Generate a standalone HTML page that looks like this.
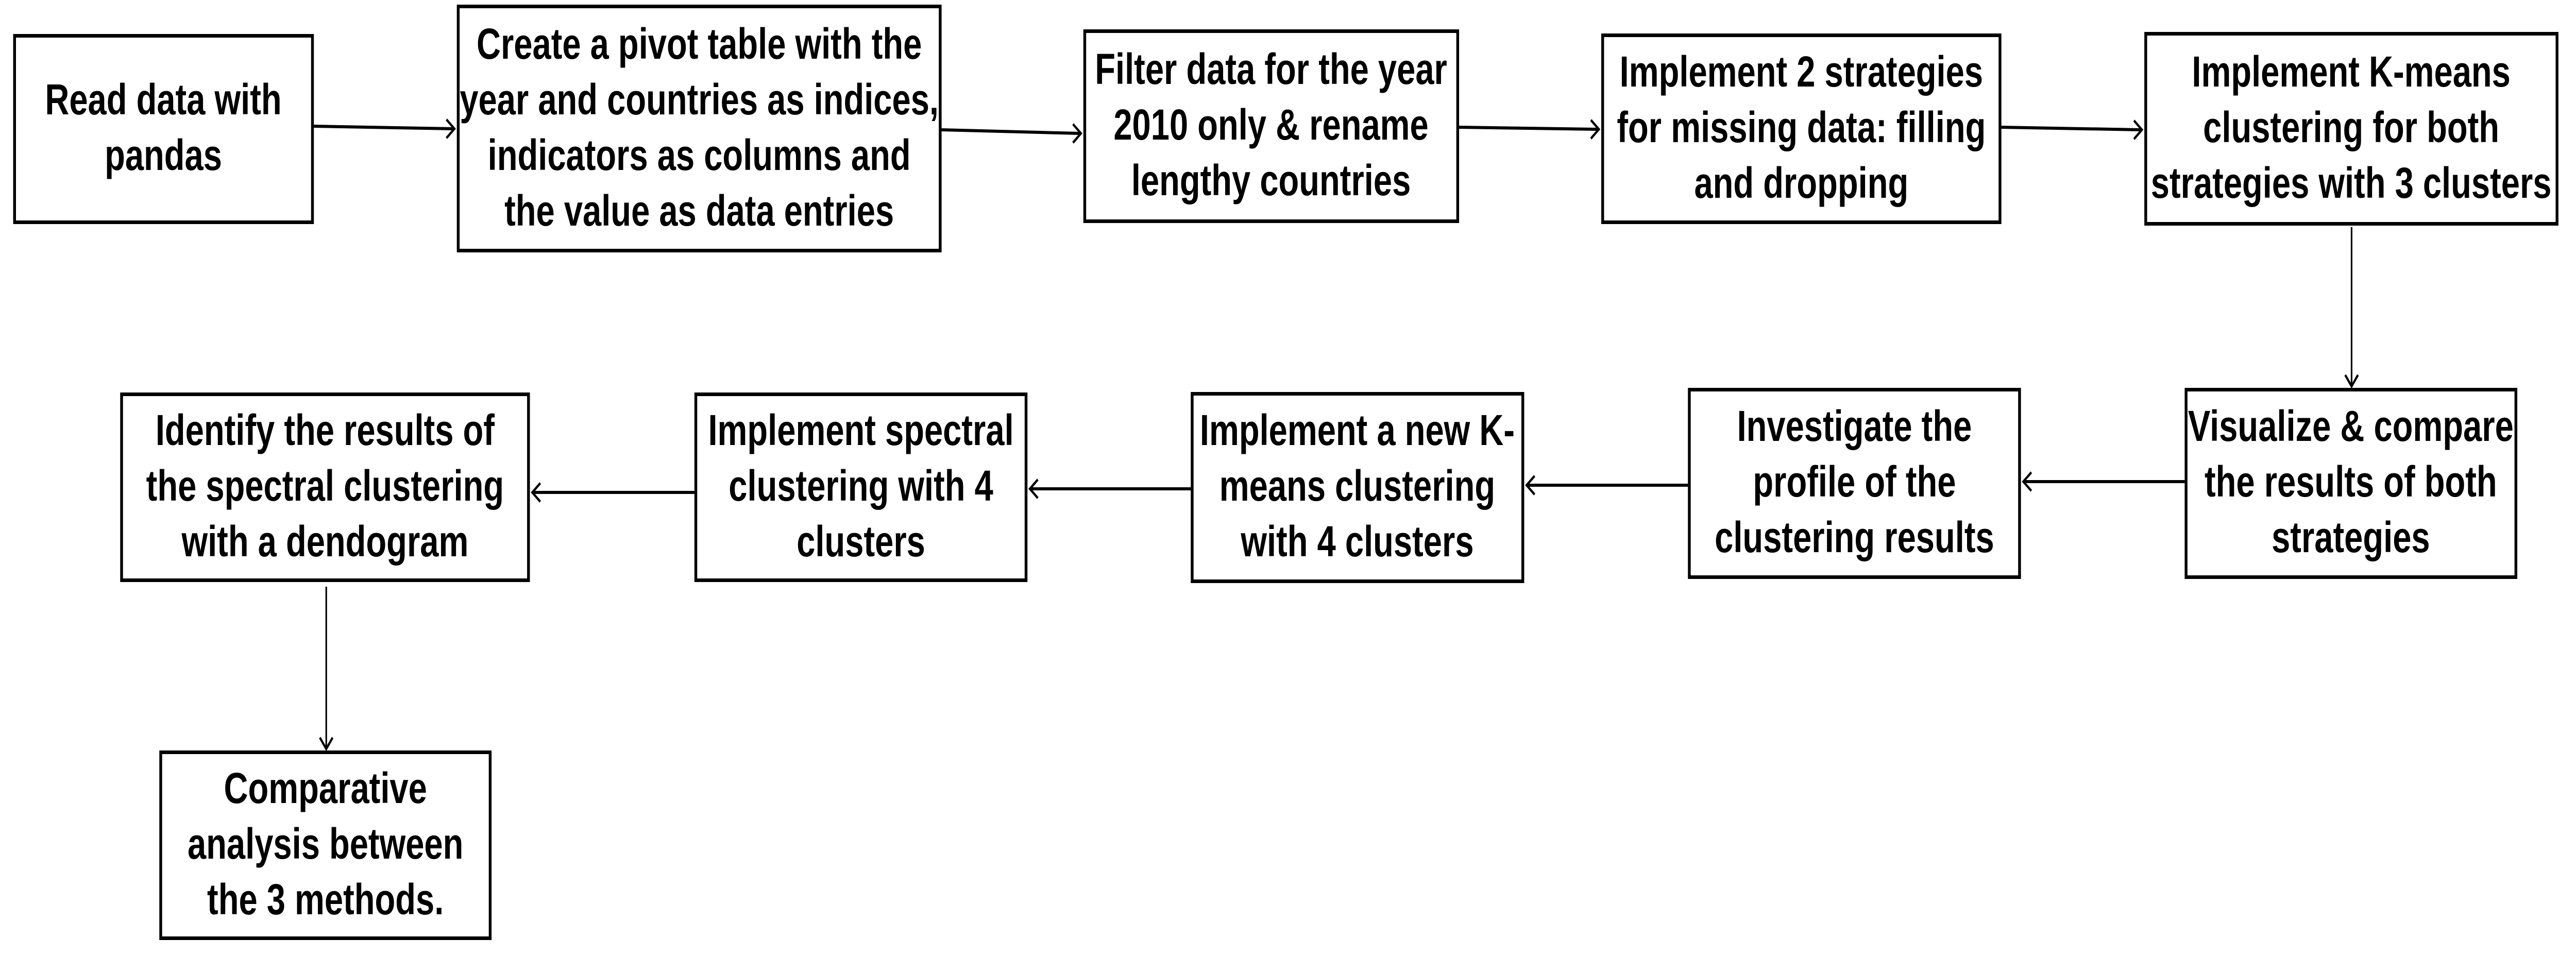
<!DOCTYPE html>
<html><head><meta charset="utf-8"><style>
html,body{margin:0;padding:0;background:#fff;overflow:hidden;width:100%;height:100%}
svg{display:block;width:100vw;height:100vh}
text{font-family:"Liberation Sans",sans-serif;font-weight:bold;font-size:84px;text-anchor:middle;fill:#000}
</style></head><body>
<svg viewBox="0 0 6451 1856" preserveAspectRatio="none" xmlns="http://www.w3.org/2000/svg">
<rect width="6451" height="1856" fill="#fff"/>
<g fill="#fff" stroke="#000" stroke-width="7">
<rect x="36.5" y="69.5" width="746" height="362"/>
<rect x="1147.5" y="12.5" width="1207" height="474"/>
<rect x="2716.5" y="60.5" width="934" height="369"/>
<rect x="4013.5" y="68.5" width="995" height="363"/>
<rect x="5373.5" y="65.5" width="1030" height="369"/>
<rect x="5474.5" y="756.5" width="826" height="364"/>
<rect x="4230.5" y="756.5" width="827" height="364"/>
<rect x="2985.5" y="764.5" width="828" height="364"/>
<rect x="1742.5" y="765.5" width="827" height="361"/>
<rect x="304.5" y="765.5" width="1019" height="361"/>
<rect x="402.5" y="1460.5" width="825" height="361"/>
</g>
<text x="409" y="222">Read data with</text><text x="409" y="330">pandas</text>
<text x="1751" y="114">Create a pivot table with the</text><text x="1751" y="222">year and countries as indices,</text><text x="1751" y="330">indicators as columns and</text><text x="1751" y="438">the value as data entries</text>
<text x="3183" y="163">Filter data for the year</text><text x="3183" y="271">2010 only &amp; rename</text><text x="3183" y="379">lengthy countries</text>
<text x="4511" y="168">Implement 2 strategies</text><text x="4511" y="276">for missing data: filling</text><text x="4511" y="384">and dropping</text>
<text x="5888" y="168">Implement K-means</text><text x="5888" y="276">clustering for both</text><text x="5888" y="384">strategies with 3 clusters</text>
<text x="5887" y="856">Visualize &amp; compare</text><text x="5887" y="964">the results of both</text><text x="5887" y="1072">strategies</text>
<text x="4644" y="856">Investigate the</text><text x="4644" y="964">profile of the</text><text x="4644" y="1072">clustering results</text>
<text x="3399" y="864">Implement a new K-</text><text x="3399" y="972">means clustering</text><text x="3399" y="1080">with 4 clusters</text>
<text x="2156" y="864">Implement spectral</text><text x="2156" y="972">clustering with 4</text><text x="2156" y="1080">clusters</text>
<text x="814" y="864">Identify the results of</text><text x="814" y="972">the spectral clustering</text><text x="814" y="1080">with a dendogram</text>
<text x="815" y="1559">Comparative</text><text x="815" y="1667">analysis between</text><text x="815" y="1775">the 3 methods.</text>
<g fill="none" stroke="#000">
<g stroke-width="6">
<line x1="786" y1="245" x2="1136" y2="250"/>
<line x1="2358" y1="252" x2="2705" y2="259"/>
<line x1="3654" y1="247" x2="4002" y2="251"/>
<line x1="5012" y1="247" x2="5362" y2="252"/>
<line x1="5471" y1="935" x2="5069" y2="935"/>
<line x1="4227" y1="942" x2="3825" y2="942"/>
<line x1="2982" y1="949" x2="2581" y2="949"/>
<line x1="1739" y1="956" x2="1335" y2="956"/>
</g>
<g stroke-width="4">
<line x1="5889" y1="441" x2="5889" y2="748"/>
<line x1="817" y1="1139" x2="817" y2="1452"/>
</g>
<g stroke-width="5">
<polyline points="1118,232 1138,250 1118,268"/>
<polyline points="2687,241 2707,259 2687,277"/>
<polyline points="3984,233 4004,251 3984,269"/>
<polyline points="5344,234 5364,252 5344,270"/>
<polyline points="5087,917 5067,935 5087,953"/>
<polyline points="3843,924 3823,942 3843,960"/>
<polyline points="2599,931 2579,949 2599,967"/>
<polyline points="1353,938 1333,956 1353,974"/>
<polyline points="5873,728 5889,750 5905,728"/>
<polyline points="801,1432 817,1454 833,1432"/>
</g>
</g>
</svg>
</body></html>
